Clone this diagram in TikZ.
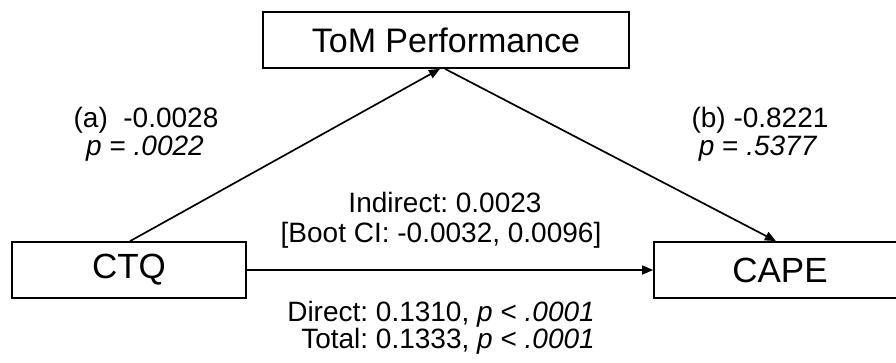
\documentclass[tikz,border=0pt]{standalone}
\usepackage{fontspec}
\setmainfont{Liberation Sans}
\usetikzlibrary{arrows.meta}
\frenchspacing
\begin{document}
\begin{tikzpicture}[x=1pt,y=-1pt,
  box/.style={draw=black,line width=1.7pt,fill=white,inner sep=0pt,font=\fontsize{35}{40}\selectfont},
  lab/.style={anchor=base,inner sep=0pt,font=\fontsize{28}{32}\selectfont},
  conn/.style={line width=1.7pt,-{Triangle[length=11pt,width=9pt]}}]
\useasboundingbox (0,0) rectangle (896,362);
\fill[white] (0,0) rectangle (896,362);
\begin{scope}
\clip (0,0) rectangle (896,362);
\node[box,minimum width=366pt,minimum height=56pt,font=\fontsize{34}{40}\selectfont] (tom) at (446,40) {ToM Performance};
\node[box,minimum width=234pt,minimum height=56pt] (ctq) at (129,270) {CTQ};
\node[box,minimum width=252pt,minimum height=56pt] (cape) at (780,270) {CAPE};
\end{scope}
\draw[conn] ([xshift=1pt]ctq.north) -- ([xshift=-6pt]tom.south);
\draw[conn] ([xshift=-1pt]tom.south) -- ([xshift=-4pt]cape.north);
\draw[conn] (ctq.east) -- (cape.west);
\node[lab] (a1) at (146,127) {(a)\ \ -0.0028};
\node[lab] (a2) at (145,155) {\textit{p} = \textit{.0022}};
\node[lab] (b1) at (760,127) {(b) -0.8221};
\node[lab] (b2) at (758,155) {\textit{p} = \textit{.5377}};
\node[lab] (i1) at (445,212) {Indirect: 0.0023};
\node[lab] (i2) at (441,242) {[Boot CI: -0.0032, 0.0096]};
\node[lab] (d1) at (441,321) {Direct: 0.1310, \textit{p} < \textit{.0001}};
\node[lab] (t1) at (448,348) {Total: 0.1333, \textit{p} < \textit{.0001}};
\end{tikzpicture}
\end{document}
